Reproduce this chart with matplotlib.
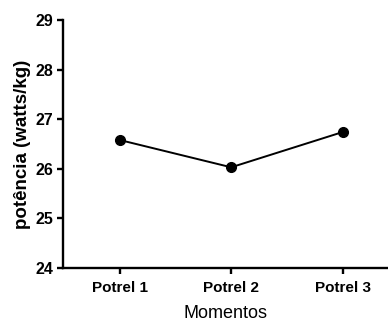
import matplotlib
matplotlib.use("Agg")
import matplotlib.pyplot as plt

plt.rcParams['font.family'] = ['Liberation Sans', 'DejaVu Sans']

momentos = ["Potrel 1", "Potrel 2", "Potrel 3"]
potencia = [26.58, 26.03, 26.74]

fig = plt.figure(figsize=(3.88, 3.21), dpi=100)
ax = fig.add_axes([0.162, 0.165, 0.836, 0.773])

x = range(len(momentos))
ax.plot(x, potencia, color='black', linewidth=1.4, marker='o', markersize=7)

ax.set_xlim(-0.51, 2.4)
ax.set_ylim(24, 29)
ax.set_yticks([24, 25, 26, 27, 28, 29])
ax.set_xticks(list(x))
ax.set_xticklabels(momentos, fontsize=11, fontweight='bold')
for lab in ax.get_yticklabels():
    lab.set_fontweight('bold')
    lab.set_fontsize(11.5)

ax.spines['top'].set_visible(False)
ax.spines['right'].set_visible(False)
ax.spines['left'].set_linewidth(1.7)
ax.spines['bottom'].set_linewidth(1.7)
ax.tick_params(axis='both', width=1.7, length=4.5, direction='out')
ax.tick_params(axis='y', pad=2.5)
ax.tick_params(axis='x', pad=5)

ax.set_ylabel("potência (watts/kg)", fontsize=13.5, fontweight='bold', labelpad=3)
ax.set_xlabel("Momentos", fontsize=13, labelpad=7)

fig.savefig("out.png", dpi=100)
